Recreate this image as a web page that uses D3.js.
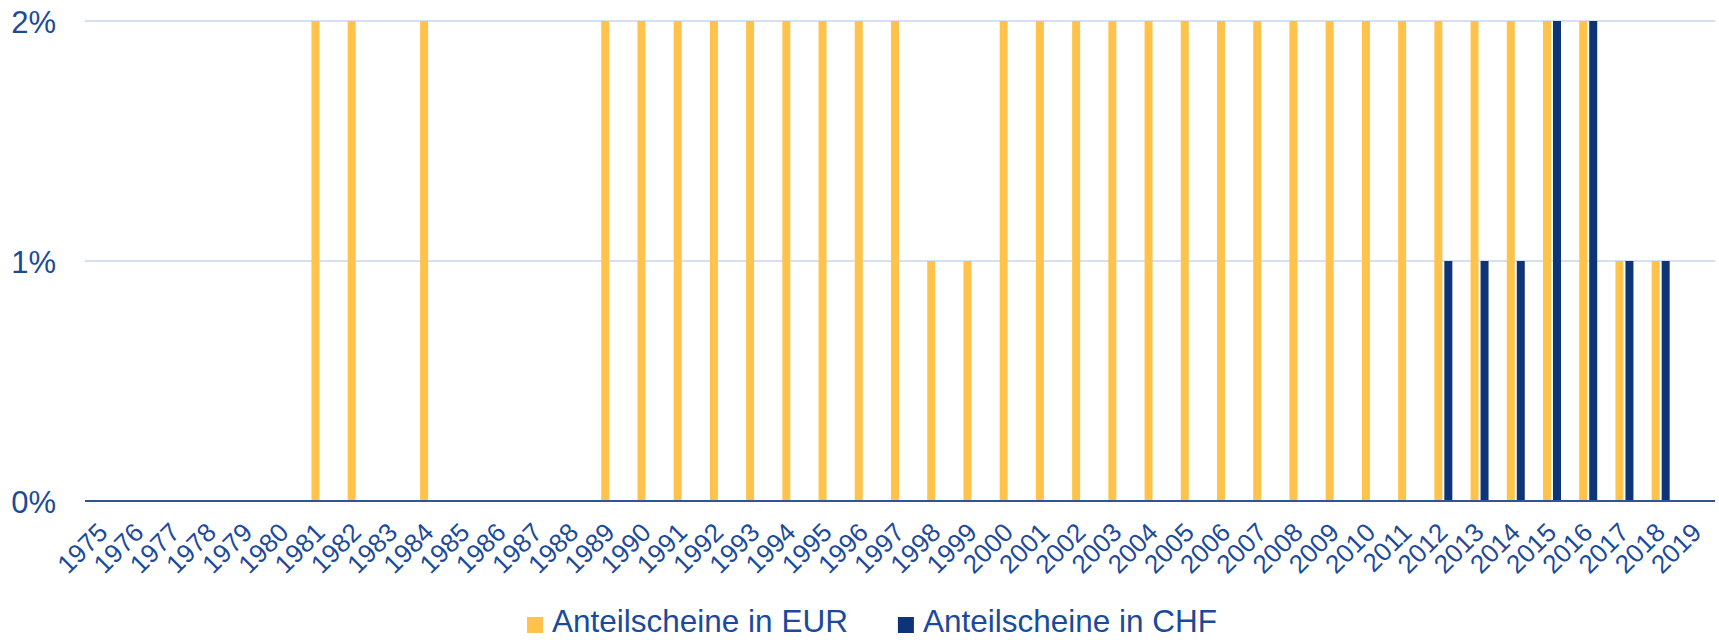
<!DOCTYPE html>
<html>
<head>
<meta charset="utf-8">
<script src="https://cdn.jsdelivr.net/npm/d3@7"></script>
<style>
    html, body { margin: 0; padding: 0; background: #fff; }
    svg { display: block; font-family: "Liberation Sans", Arial, sans-serif; }
</style>
</head>
<body>
<div id="root"></div>
<script>
// years on the x axis
var years = d3.range(1975, 2020).map(String);

// share in percent, one value per year
var eurValues = [0, 0, 0, 0, 0, 0, 2, 2, 0, 2,
                 0, 0, 0, 0, 2, 2, 2, 2, 2, 2,
                 2, 2, 2, 1, 1, 2, 2, 2, 2, 2,
                 2, 2, 2, 2, 2, 2, 2, 2, 2, 2,
                 2, 2, 1, 1, 0];
var chfValues = [0, 0, 0, 0, 0, 0, 0, 0, 0, 0,
                 0, 0, 0, 0, 0, 0, 0, 0, 0, 0,
                 0, 0, 0, 0, 0, 0, 0, 0, 0, 0,
                 0, 0, 0, 0, 0, 0, 0, 1, 1, 1,
                 2, 2, 1, 1, 0];

var seriesNames = ["Anteilscheine in EUR", "Anteilscheine in CHF"];
var seriesColors = ["#FFC34B", "#0E3478"];
var yTicks = [0, 1, 2];

var width = 1719, height = 640,
    margin = { top: 21, left: 85, right: 4, bottom: 139 },
    textColor = "#1B4A9B";

var data = years.map(function (y, i) {
    return { year: y, values: [eurValues[i], chfValues[i]] };
});

var svg = d3.select("#root").append("svg")
    .attr("width", width)
    .attr("height", height);

var x = d3.scaleBand()
    .domain(years)
    .range([margin.left, width - margin.right])
    .padding(0);

// two thin bars side by side in the middle of each year
var x1 = d3.scaleBand()
    .domain([0, 1])
    .range([x.bandwidth() / 2 - 9, x.bandwidth() / 2 + 9])
    .paddingInner(0.2);

var y = d3.scaleLinear()
    .domain([0, 2])
    .range([height - margin.bottom, margin.top]);

// gridlines
svg.append("g").classed("grid", true)
    .selectAll("line")
    .data(yTicks.filter(function (t) { return t > 0; }))
    .enter()
    .append("line")
    .attr("x1", margin.left)
    .attr("x2", width - margin.right)
    .attr("y1", function (d) { return y(d); })
    .attr("y2", function (d) { return y(d); })
    .attr("stroke", "#D6E0F4")
    .attr("stroke-width", 2);

// bars
var groups = svg.append("g").classed("bars", true)
    .selectAll("g")
    .data(data)
    .enter()
    .append("g")
    .attr("transform", function (d) { return "translate(" + x(d.year) + ",0)"; });

groups.selectAll("rect")
    .data(function (d) { return d.values; })
    .enter()
    .append("rect")
    .attr("x", function (_, i) { return x1(i); })
    .attr("width", x1.bandwidth())
    .attr("y", function (d) { return y(d); })
    .attr("height", function (d) { return y(0) - y(d); })
    .attr("fill", function (_, i) { return seriesColors[i]; });

// zero line
svg.append("line")
    .attr("x1", margin.left)
    .attr("x2", width - margin.right)
    .attr("y1", y(0))
    .attr("y2", y(0))
    .attr("stroke", "#2F5597")
    .attr("stroke-width", 2);

// y axis labels
var yAxis = d3.axisLeft(y)
    .tickValues(yTicks)
    .tickSize(0)
    .tickPadding(29)
    .tickFormat(function (v) { return v + "%"; });

var yAxisGroup = svg.append("g")
    .attr("transform", "translate(" + margin.left + ",0)")
    .call(yAxis);
yAxisGroup.select(".domain").remove();
yAxisGroup.selectAll("text")
    .attr("font-size", 31)
    .attr("font-family", "Liberation Sans, Arial, sans-serif")
    .attr("fill", textColor)
    .attr("dy", "0.37em");

// x axis labels, rotated
svg.append("g").classed("x-labels", true)
    .selectAll("text")
    .data(years)
    .enter()
    .append("text")
    .text(function (d) { return d; })
    .attr("text-anchor", "end")
    .attr("font-size", 26)
    .attr("fill", textColor)
    .attr("transform", function (d) {
        var cx = x(d) + x.bandwidth() / 2 + 6;
        return "translate(" + cx + "," + (y(0) + 33) + ") rotate(-45)";
    });

// legend
var legend = svg.append("g").classed("legend", true);
var legendX = 527;
seriesNames.forEach(function (name, i) {
    var item = legend.append("g").attr("transform", "translate(" + legendX + ",0)");
    item.append("rect")
        .attr("x", 0)
        .attr("y", 617)
        .attr("width", 16)
        .attr("height", 16)
        .attr("fill", seriesColors[i]);
    var t = item.append("text")
        .attr("x", 25)
        .attr("y", 632)
        .attr("font-size", 31.5)
        .attr("fill", textColor)
        .text(name);
    legendX += 25 + t.node().getComputedTextLength() + 50;
});
</script>
</body>
</html>
